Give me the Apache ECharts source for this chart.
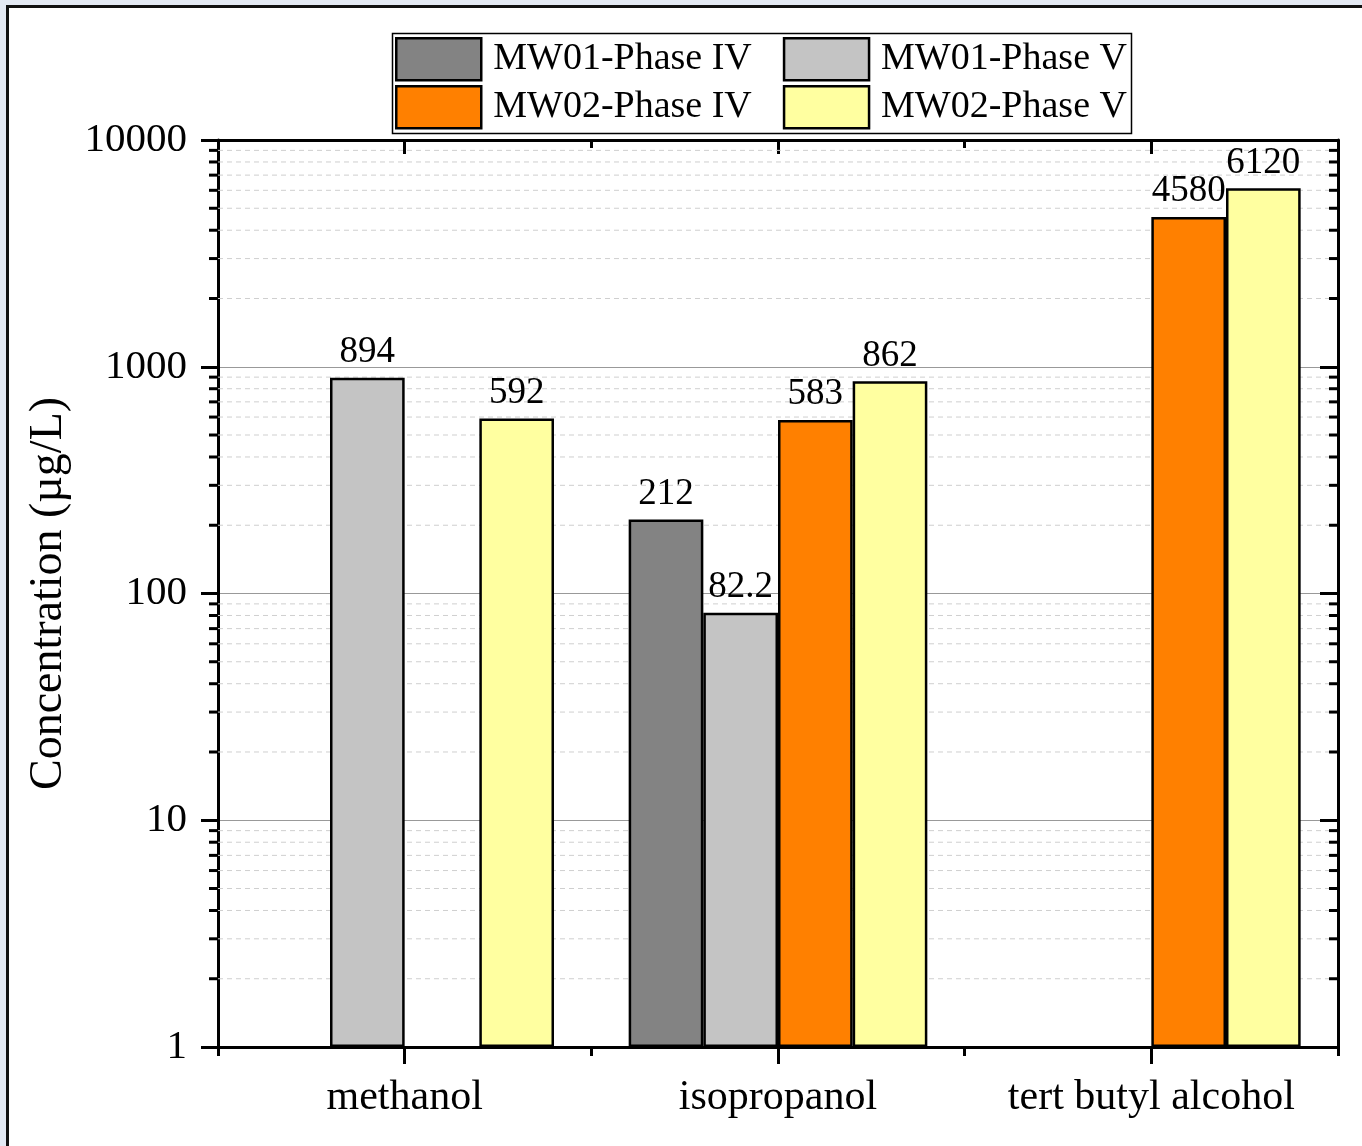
<!DOCTYPE html>
<html>
<head>
<meta charset="utf-8">
<script src="https://cdn.jsdelivr.net/npm/echarts@6/dist/echarts.min.js"></script>
<style>
  html, body { margin: 0; padding: 0; width: 1362px; height: 1146px; overflow: hidden; background: #e3e9f3; }
  #frame { position: absolute; left: 6px; top: 5px; width: 1400px; height: 1200px; border: 3px solid #111; background: #fff; }
  #chart { position: absolute; left: 0; top: 0; width: 1362px; height: 1146px; }
</style>
</head>
<body>
<div id="frame"></div>
<div id="chart"></div>
<script>
const categories = ['methanol', 'isopropanol', 'tert butyl alcohol'];
const seriesNames = ['MW01-Phase IV', 'MW01-Phase V', 'MW02-Phase IV', 'MW02-Phase V'];
const mw01PhaseIV = [null, 212, null];
const mw01PhaseV = [894, 82.2, null];
const mw02PhaseIV = [null, 583, 4580];
const mw02PhaseV = [592, 862, 6120];
const colors = ['#838383', '#c4c4c4', '#ff8000', '#ffffa0'];
const minorTickValues = [2,3,4,5,6,7,8,9,20,30,40,50,60,70,80,90,200,300,400,500,600,700,800,900,2000,3000,4000,5000,6000,7000,8000,9000];

const FONT = '"Liberation Serif", "Times New Roman", serif';
const seriesData = [mw01PhaseIV, mw01PhaseV, mw02PhaseIV, mw02PhaseV];

const barSeries = seriesData.map((d, i) => ({
  name: seriesNames[i],
  type: 'bar',
  xAxisIndex: 0,
  yAxisIndex: 0,
  data: d,
  barGap: '0%',
  barCategoryGap: '20%',
  z: 3,
  itemStyle: { color: colors[i], borderColor: '#000', borderWidth: 2.5 },
  label: {
    show: true, position: 'top', distance: 7,
    fontFamily: FONT, fontSize: 37, color: '#000'
  }
}));

const minorSeries = {
  type: 'custom',
  xAxisIndex: 0,
  yAxisIndex: 0,
  silent: true,
  clip: false,
  z: 1,
  data: minorTickValues.map(v => [0, v]),
  encode: { x: 0, y: 1 },
  renderItem: function (params, api) {
    const cs = params.coordSys;
    const y = api.coord([0, api.value(1)])[1];
    const x0 = cs.x, x1 = cs.x + cs.width;
    return {
      type: 'group',
      children: [
        { type: 'line', shape: { x1: x0, y1: y, x2: x1, y2: y },
          style: { stroke: '#cfcfcf', lineWidth: 1, lineDash: [5, 4] } },
        { type: 'line', shape: { x1: x0 - 9, y1: y, x2: x0, y2: y },
          style: { stroke: '#000', lineWidth: 3 } },
        { type: 'line', shape: { x1: x1 - 9, y1: y, x2: x1, y2: y },
          style: { stroke: '#000', lineWidth: 3 } }
      ]
    };
  }
};

const axisLineStyle = { show: true, lineStyle: { color: '#000', width: 3 } };
const legendCommon = {
  left: 395, padding: 0, icon: 'rect',
  itemWidth: 85, itemHeight: 42, itemGap: 31,
  itemStyle: { borderColor: '#000', borderWidth: 2.5 },
  textStyle: { fontFamily: FONT, fontSize: 38, color: '#000', padding: [0, 0, 0, 7] }
};

const option = {
  animation: false,
  backgroundColor: 'transparent',
  grid: { left: 218, right: 24, top: 140, bottom: 99, containLabel: false },
  legend: [
    Object.assign({ data: seriesNames.slice(0, 2), top: 37 }, legendCommon),
    Object.assign({ data: seriesNames.slice(2, 4), top: 85 }, legendCommon)
  ],
  graphic: [
    { type: 'rect', left: 390, top: 31, z: 0, silent: true,
      shape: { width: 739, height: 100 },
      style: { fill: 'none', stroke: '#000', lineWidth: 1.5 } }
  ],
  xAxis: [
    {
      type: 'category', position: 'bottom', data: categories,
      axisLine: axisLineStyle,
      axisTick: { show: true, alignWithLabel: true, inside: false, length: 17, lineStyle: { color: '#000', width: 3 } },
      axisLabel: { fontFamily: FONT, fontSize: 42, color: '#000', margin: 30 },
      splitLine: { show: false }
    },
    {
      type: 'category', position: 'bottom', data: categories,
      axisLine: { show: false },
      axisTick: { show: true, alignWithLabel: false, inside: false, length: 9, lineStyle: { color: '#000', width: 3 } },
      axisLabel: { show: false },
      splitLine: { show: false }
    },
    {
      type: 'category', position: 'top', data: categories,
      axisLine: axisLineStyle,
      axisTick: { show: true, alignWithLabel: true, inside: true, length: 14, lineStyle: { color: '#000', width: 3 } },
      axisLabel: { show: false },
      splitLine: { show: false }
    },
    {
      type: 'category', position: 'top', data: categories,
      axisLine: { show: false },
      axisTick: { show: true, alignWithLabel: false, inside: true, length: 8, lineStyle: { color: '#000', width: 3 } },
      axisLabel: { show: false },
      splitLine: { show: false }
    }
  ],
  yAxis: [
    {
      type: 'log', logBase: 10, min: 1, max: 10000, splitNumber: 4, position: 'left',
      name: 'Concentration (µg/L)', nameLocation: 'middle', nameGap: 146,
      nameTextStyle: { fontFamily: FONT, fontSize: 46, color: '#000' },
      axisLine: axisLineStyle,
      axisTick: { show: true, inside: false, length: 17, lineStyle: { color: '#000', width: 3 } },
      axisLabel: { fontFamily: FONT, fontSize: 41, color: '#000', margin: 31,
        formatter: function (v) { return String(Math.round(v)); } },
      splitLine: { show: true, lineStyle: { color: '#999', width: 1, type: 'solid' } },
      minorTick: { show: false }
    },
    {
      type: 'log', logBase: 10, min: 1, max: 10000, splitNumber: 4, position: 'right',
      axisLine: axisLineStyle,
      axisTick: { show: true, inside: true, length: 18, lineStyle: { color: '#000', width: 3 } },
      axisLabel: { show: false },
      splitLine: { show: false }
    }
  ],
  series: barSeries.concat([minorSeries])
};

const chart = echarts.init(document.getElementById('chart'), null, { renderer: 'canvas' });
chart.setOption(option);
</script>
</body>
</html>
